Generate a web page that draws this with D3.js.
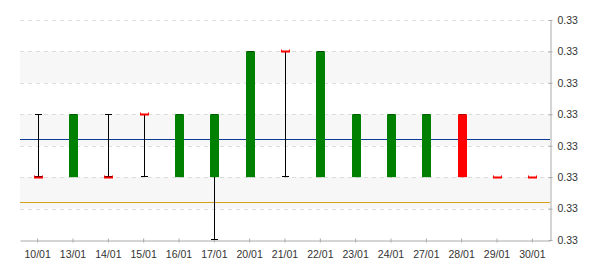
<!DOCTYPE html>
<html>
<head>
<meta charset="utf-8">
<script src="https://cdn.jsdelivr.net/npm/d3@7"></script>
<style>
  html, body { margin: 0; padding: 0; background: #fff; }
  svg { display: block; font-family: "Liberation Sans", Arial, sans-serif; }
</style>
</head>
<body>
<svg id="chart" width="600" height="270"></svg>
<script>
const categories = ["10/01","13/01","14/01","15/01","16/01","17/01","20/01","21/01","22/01","23/01","24/01","27/01","28/01","29/01","30/01"];
const openVals  = [0.3296,0.3296,0.3296,0.3298,0.3296,0.3296,0.3296,0.3300,0.3296,0.3296,0.3296,0.3296,0.3298,0.3296,0.3296];
const closeVals = [0.3296,0.3298,0.3296,0.3298,0.3298,0.3298,0.3300,0.3300,0.3300,0.3298,0.3298,0.3298,0.3296,0.3296,0.3296];
const highVals  = [0.3298,0.3298,0.3298,0.3298,0.3298,0.3298,0.3300,0.3300,0.3300,0.3298,0.3298,0.3298,0.3298,0.3296,0.3296];
const lowVals   = [0.3296,0.3296,0.3296,0.3296,0.3296,0.3294,0.3296,0.3296,0.3296,0.3296,0.3296,0.3296,0.3296,0.3296,0.3296];
const yTicks = [0.3294,0.3295,0.3296,0.3297,0.3298,0.3299,0.3300,0.3301];
const blueLine = 0.32972;
const goldLine = 0.32952;

const svg = d3.select("#chart");
const mLeft = 20, mRight = 550, mTop = 20, mBottom = 240;

const x = d3.scaleBand().domain(categories).range([mLeft, mRight]);
const y = d3.scaleLinear().domain([0.3294, 0.3301]).range([mBottom, mTop]);

// bands
const bandPairs = [[0.3295,0.3296],[0.3297,0.3298],[0.3299,0.3300]];
svg.append("g").selectAll("rect").data(bandPairs).join("rect")
  .attr("x", mLeft).attr("width", mRight - mLeft)
  .attr("y", d => y(d[1])).attr("height", d => y(d[0]) - y(d[1]))
  .attr("fill", "#f7f7f7");

// gridlines
svg.append("g").selectAll("line").data(yTicks.slice(1)).join("line")
  .attr("x1", mLeft).attr("x2", mRight)
  .attr("y1", d => Math.round(y(d)) + 0.5).attr("y2", d => Math.round(y(d)) + 0.5)
  .attr("stroke", "#dddddd").attr("stroke-dasharray", "4,4");

// reference lines
svg.append("line").attr("x1", mLeft).attr("x2", mRight)
  .attr("y1", Math.round(y(blueLine)) + 0.5).attr("y2", Math.round(y(blueLine)) + 0.5)
  .attr("stroke", "#0a3d91").attr("stroke-width", 1);
svg.append("line").attr("x1", mLeft).attr("x2", mRight)
  .attr("y1", Math.round(y(goldLine)) + 0.5).attr("y2", Math.round(y(goldLine)) + 0.5)
  .attr("stroke", "#d4a017").attr("stroke-width", 1);

// axes
const yAxis = d3.axisRight(y).tickValues(yTicks).tickFormat(d3.format(".2f")).tickSize(3).tickSizeOuter(0);
const gy = svg.append("g").attr("transform", `translate(${mRight + 0.5},0)`).call(yAxis);
gy.select(".domain").attr("stroke", "#aaaaaa");
gy.selectAll(".tick line").attr("stroke", "#aaaaaa").attr("x1", -2).attr("x2", 2);
gy.selectAll(".tick text").attr("x", 7).attr("fill", "#333").style("font-size", "10.5px").style("font-family", "Liberation Sans, Arial, sans-serif");

const xAxis = d3.axisBottom(x).tickSize(3).tickSizeOuter(0);
const gx = svg.append("g").attr("transform", `translate(0,${mBottom + 0.5})`).call(xAxis);
gx.select(".domain").attr("stroke", "#aaaaaa");
gx.selectAll(".tick line").attr("stroke", "#aaaaaa").attr("y1", -2).attr("y2", 2);
gx.selectAll(".tick text").attr("y", 10).attr("fill", "#333").style("font-size", "10.5px").style("font-family", "Liberation Sans, Arial, sans-serif");

// candles
const data = categories.map((c, i) => ({c, o: openVals[i], cl: closeVals[i], h: highVals[i], l: lowVals[i]}));
const bw = 9, capW = 7;
const g = svg.append("g");
data.forEach(d => {
  const cx = Math.round(x(d.c) + x.bandwidth() / 2) + 0.5;
  if (d.h !== d.l) {
    g.append("line").attr("x1", cx).attr("x2", cx).attr("y1", y(d.h)).attr("y2", y(d.l)).attr("stroke", "#000");
    g.append("line").attr("x1", cx - capW/2).attr("x2", cx + capW/2).attr("y1", Math.round(y(d.h)) + 0.5).attr("y2", Math.round(y(d.h)) + 0.5).attr("stroke", "#000");
    g.append("line").attr("x1", cx - capW/2).attr("x2", cx + capW/2).attr("y1", Math.round(y(d.l)) - 0.5).attr("y2", Math.round(y(d.l)) - 0.5).attr("stroke", "#000");
  }
  const up = d.cl > d.o;
  const bx = cx - 0.5 - Math.floor(bw/2);
  if (d.cl === d.o) {
    const yy = Math.round(y(d.o));
    g.append("path")
      .attr("d", `M${bx},${yy-1.5}h1v1h${bw-2}v-1h1v3h-${bw}z`)
      .attr("fill", "#ff0000");
  } else {
    const y0 = y(Math.max(d.o, d.cl)), y1 = y(Math.min(d.o, d.cl));
    g.append("rect").attr("x", bx).attr("width", bw)
      .attr("y", y0).attr("height", y1 - y0)
      .attr("fill", up ? "#008000" : "#ff0000");
  }
});
</script>
</body>
</html>
